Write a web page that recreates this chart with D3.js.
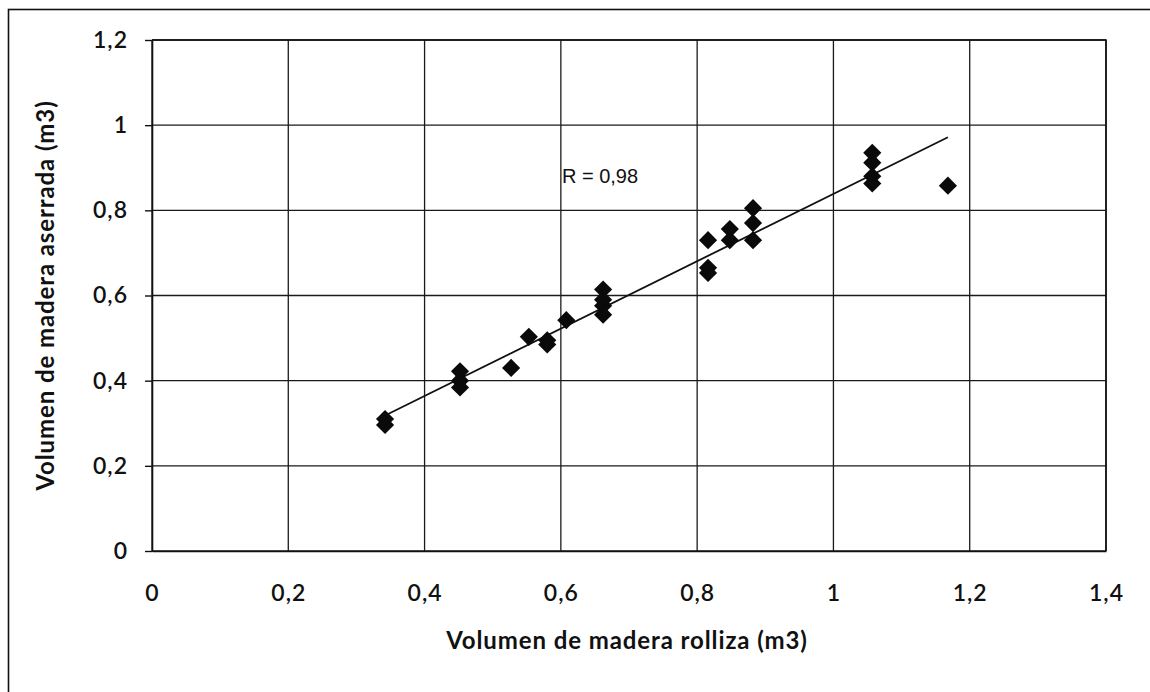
<!DOCTYPE html>
<html>
<head>
<meta charset="utf-8">
<script src="https://cdn.jsdelivr.net/npm/d3@7"></script>
<style>
  html, body { margin: 0; padding: 0; background: #fff; }
  svg { display: block; }
</style>
</head>
<body>
<svg id="chart" width="1150" height="692"></svg>
<script>
// Volumen de madera rolliza (x) vs. aserrada (y), m3
const rollizaX = [0.342, 0.342, 0.452, 0.452, 0.452, 0.527, 0.553, 0.580, 0.580, 0.608,
                  0.662, 0.662, 0.662, 0.662, 0.816, 0.816, 0.816, 0.848, 0.848,
                  0.882, 0.882, 0.882, 1.057, 1.057, 1.057, 1.057, 1.168];
const aserradaY = [0.310, 0.296, 0.422, 0.400, 0.384, 0.430, 0.503, 0.495, 0.485, 0.542,
                   0.614, 0.590, 0.576, 0.555, 0.730, 0.665, 0.653, 0.756, 0.730,
                   0.805, 0.770, 0.730, 0.935, 0.912, 0.880, 0.863, 0.858];
const xTicks = [0, 0.2, 0.4, 0.6, 0.8, 1, 1.2, 1.4];
const yTicks = [0, 0.2, 0.4, 0.6, 0.8, 1, 1.2];
const correlationLabel = "R = 0,98";
const xTitle = "Volumen de madera rolliza (m3)";
const yTitle = "Volumen de madera aserrada (m3)";

const svg = d3.select("#chart");
const plot = { left: 152, right: 1106, top: 40, bottom: 551 };

const x = d3.scaleLinear().domain([0, 1.4]).range([plot.left, plot.right]);
const y = d3.scaleLinear().domain([0, 1.2]).range([plot.bottom, plot.top]);
const fmt = v => String(+v.toFixed(1)).replace(".", ",");

// outer chart frame
svg.append("rect")
  .attr("x", 8.5).attr("y", 9.5).attr("width", 1200).attr("height", 720)
  .attr("fill", "none").attr("stroke", "#111").attr("stroke-width", 1.6);

// gridlines
svg.append("g").selectAll("line").data(xTicks).join("line")
  .attr("x1", d => x(d)).attr("x2", d => x(d))
  .attr("y1", plot.top).attr("y2", plot.bottom)
  .attr("stroke", "#1a1a1a").attr("stroke-width", 1.3);
svg.append("g").selectAll("line").data(yTicks).join("line")
  .attr("x1", plot.left).attr("x2", plot.right)
  .attr("y1", d => y(d)).attr("y2", d => y(d))
  .attr("stroke", "#1a1a1a").attr("stroke-width", 1.3);

// axes
const xAxis = svg.append("g")
  .attr("transform", `translate(0,${plot.bottom})`)
  .call(d3.axisBottom(x).tickValues(xTicks).tickFormat(fmt).tickSizeInner(6).tickSizeOuter(0).tickPadding(30));
const yAxis = svg.append("g")
  .attr("transform", `translate(${plot.left},0)`)
  .call(d3.axisLeft(y).tickValues(yTicks).tickFormat(fmt).tickSizeInner(7).tickSizeOuter(0).tickPadding(17));
[xAxis, yAxis].forEach(g => {
  g.select(".domain").attr("stroke", "#111").attr("stroke-width", 1.6);
  g.selectAll(".tick line").attr("stroke", "#111").attr("stroke-width", 1.4);
  g.selectAll(".tick text")
    .attr("fill", "#111")
    .style("font-family", "Lato, 'Open Sans', sans-serif")
    .style("font-size", "23px")
    .style("font-weight", "600")
    .style("letter-spacing", "1px");
});
xAxis.selectAll(".tick text").attr("dy", "0.32em").attr("y", 43);
xAxis.selectAll(".tick line").attr("y2", 0);
yAxis.selectAll(".tick text").attr("x", -24);

// right/top border of the plot area
svg.append("path")
  .attr("d", `M${plot.left},${plot.top}H${plot.right}V${plot.bottom}`)
  .attr("fill", "none").attr("stroke", "#111").attr("stroke-width", 1.6);

// least-squares trend line across the data range
const pts = rollizaX.map((v, i) => [v, aserradaY[i]]);
const mx = d3.mean(rollizaX), my = d3.mean(aserradaY);
const slope = d3.sum(pts, p => (p[0] - mx) * (p[1] - my)) / d3.sum(pts, p => (p[0] - mx) ** 2);
const intercept = my - slope * mx;
const [x0, x1] = d3.extent(rollizaX);
svg.append("line")
  .attr("x1", x(x0)).attr("y1", y(intercept + slope * x0))
  .attr("x2", x(x1)).attr("y2", y(intercept + slope * x1))
  .attr("stroke", "#111").attr("stroke-width", 1.8);

// diamond markers
const diamond = d3.symbol().type(d3.symbolSquare).size(165);
svg.append("g").selectAll("path").data(pts).join("path")
  .attr("d", diamond)
  .attr("transform", d => `translate(${x(d[0])},${y(d[1])}) rotate(45)`)
  .attr("fill", "#0a0a0a");

// correlation annotation
svg.append("text")
  .attr("x", 600).attr("y", 183)
  .attr("text-anchor", "middle")
  .style("font-family", "'Liberation Sans', Arial, sans-serif")
  .style("font-size", "20px")
  .attr("fill", "#111")
  .text(correlationLabel);

// axis titles
svg.append("text")
  .attr("x", (plot.left + plot.right) / 2 - 2).attr("y", 649)
  .attr("text-anchor", "middle")
  .style("font-family", "Lato, 'Open Sans', sans-serif")
  .style("font-size", "24px").style("font-weight", "700")
  .style("letter-spacing", "0.9px")
  .attr("fill", "#111")
  .text(xTitle);
svg.append("text")
  .attr("transform", `translate(54,${(plot.top + plot.bottom) / 2}) rotate(-90)`)
  .attr("text-anchor", "middle")
  .style("font-family", "Lato, 'Open Sans', sans-serif")
  .style("font-size", "24px").style("font-weight", "700")
  .style("letter-spacing", "0.9px")
  .attr("fill", "#111")
  .text(yTitle);
</script>
</body>
</html>
